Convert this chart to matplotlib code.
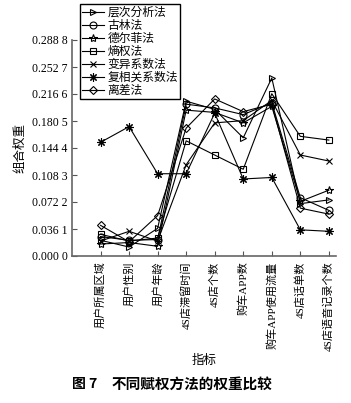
import matplotlib
matplotlib.use("Agg")
import matplotlib.pyplot as plt

plt.rcParams['font.family'] = ['Liberation Serif', 'Noto Sans CJK SC']

# indicators on the x axis
indicators = ["用户所属区域", "用户性别", "用户年龄", "4S店滞留时间", "4S店个数",
              "购车APP数", "购车APP使用流量", "4S店话单数", "4S店语音记录个数"]
yticks = [0.0, 0.0361, 0.0722, 0.1083, 0.1444, 0.1805, 0.2166, 0.2527, 0.2888]
ytick_labels = ["0.000 0", "0.036 1", "0.072 2", "0.108 3", "0.144 4",
                "0.180 5", "0.216 6", "0.252 7", "0.288 8"]

method_names = ["层次分析法", "古林法", "德尔菲法", "熵权法", "变异系数法", "复相关系数法", "离差法"]
ahp      = [0.021, 0.012, 0.037, 0.207, 0.196, 0.158, 0.238, 0.070, 0.075]
gulin    = [0.026, 0.021, 0.022, 0.203, 0.198, 0.189, 0.205, 0.078, 0.061]
delphi   = [0.016, 0.018, 0.013, 0.195, 0.192, 0.178, 0.200, 0.073, 0.088]
entropy  = [0.029, 0.020, 0.024, 0.154, 0.135, 0.116, 0.217, 0.160, 0.155]
cv       = [0.020, 0.033, 0.020, 0.122, 0.178, 0.181, 0.208, 0.135, 0.127]
multicor = [0.152, 0.173, 0.110, 0.110, 0.191, 0.103, 0.105, 0.035, 0.033]
deviation = [0.041, 0.019, 0.054, 0.171, 0.210, 0.193, 0.203, 0.064, 0.056]
series = [ahp, gulin, delphi, entropy, cv, multicor, deviation]
markers = [">", "o", "*", "s", "x", (8, 2, 0), "D"]
msizes = [5, 5, 6, 4.5, 5, 6, 4]

fig = plt.figure(figsize=(3.51, 4.03), dpi=100)
ax = fig.add_axes([72/351, 147/403, 264/351, 216/403])

x = list(range(1, len(indicators)+1))
lines = []
for vals, m, ms, name in zip(series, markers, msizes, method_names):
    ln, = ax.plot(x, vals, color="black", lw=0.8, marker=m, ms=ms, mfc="none",
                  mec="black", mew=0.8, label=name)
    lines.append(ln)

ax.set_xlim(0, 9.25)
ax.set_ylim(0, 0.2888)
ax.set_yticks(yticks)
ax.set_yticklabels(ytick_labels, fontsize=8.5)
ax.set_xticks(x)
ax.set_xticklabels(indicators, rotation=90, fontsize=8, family=['Liberation Serif', 'Noto Sans CJK SC'])
ax.tick_params(direction="in", length=3.5, width=0.8, color="#555555")
ax.tick_params(axis="x", pad=4)
ax.tick_params(axis="y", pad=3)
for s in ["top", "right"]:
    ax.spines[s].set_visible(False)
for s in ["left", "bottom"]:
    ax.spines[s].set_color("#666666")
    ax.spines[s].set_linewidth(1.2)

ax.set_xlabel("指标", fontsize=9, family=['Noto Sans CJK SC'], labelpad=2)
ax.set_ylabel("组合权重", fontsize=9, family=['Noto Sans CJK SC'], labelpad=4)

fig.legend(handles=lines, loc="upper left", bbox_to_anchor=(80/351, 1-4/403),
           prop={'family': ['Noto Sans CJK SC'], 'size': 8.5}, frameon=True,
           fancybox=False, edgecolor="black", framealpha=1, borderpad=0.15,
           labelspacing=0.0, handlelength=1.9, handletextpad=0.3, borderaxespad=0)

fig.text(72/351, 1-384/403, "图 7", fontsize=10,
         fontweight="bold", family=['Noto Sans CJK SC'], va="center", ha="left")
fig.text(112/351, 1-384/403, "不同赋权方法的权重比较", fontsize=10.5,
         fontweight="bold", family=['Noto Sans CJK SC'], va="center", ha="left")

fig.savefig("out.png", dpi=100)
